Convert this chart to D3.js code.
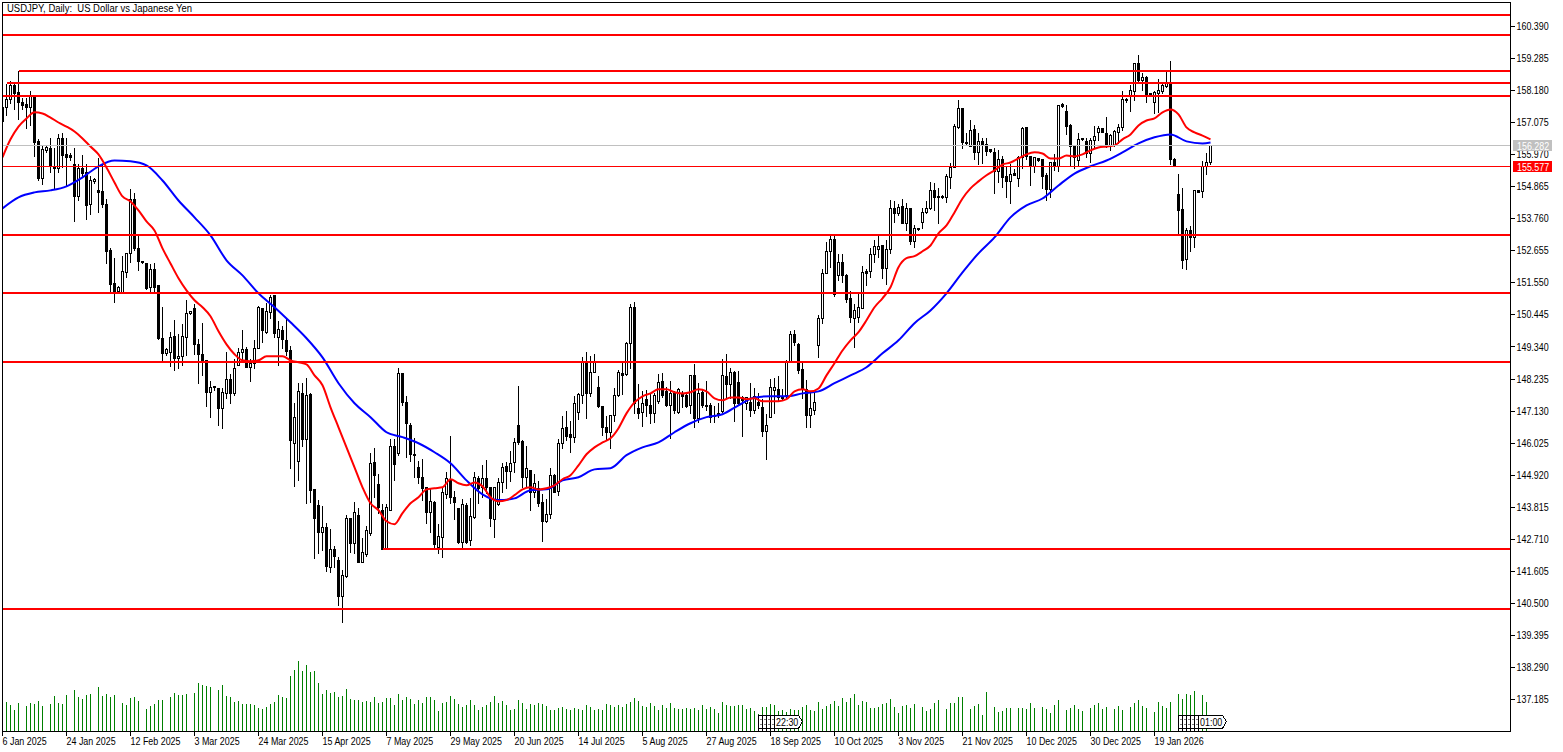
<!DOCTYPE html>
<html><head><meta charset="utf-8">
<style>
html,body{margin:0;padding:0;background:#fff;overflow:hidden}
svg{display:block}
text{font-family:"Liberation Sans",Arial,sans-serif;font-size:11px;fill:#000;white-space:pre}
</style>
<script src="https://cdn.jsdelivr.net/npm/d3@7/dist/d3.min.js"></script>
</head><body>
<svg id="c" width="1563" height="752"></svg>
<script>
const chartTitle = "USDJPY, Daily:  US Dollar vs Japanese Yen";
const opens = [157.60,157.60,157.87,158.36,158.12,157.77,157.70,157.60,157.98,156.43,
155.15,156.12,156.19,155.57,155.50,156.53,155.98,155.94,155.63,154.53,
155.50,155.36,154.26,155.05,154.74,154.70,154.26,152.67,151.53,151.26,
151.19,151.91,152.57,154.43,152.74,152.29,152.22,151.39,152.02,151.46,
149.64,149.12,149.16,149.71,148.95,149.02,149.67,150.50,150.67,149.43,
149.09,148.88,147.78,147.95,147.91,147.23,147.74,148.22,147.74,148.71,
149.16,149.26,148.64,148.78,149.29,150.67,149.84,150.53,151.12,149.67,
149.91,149.57,149.22,146.02,145.40,147.74,146.16,147.71,144.43,143.88,
142.95,143.13,141.75,142.37,141.99,140.75,141.44,143.44,142.57,143.54,
141.92,142.20,142.92,145.36,144.61,143.71,142.37,143.71,145.92,145.68,
148.43,147.43,146.64,145.61,145.19,144.85,144.50,143.64,143.99,142.44,
142.78,144.26,144.78,144.16,143.78,142.61,143.88,142.68,143.47,144.81,
144.50,144.81,144.50,143.40,143.92,144.67,145.23,145.05,145.37,146.64,
146.09,144.85,145.09,144.33,144.47,143.99,143.33,143.57,144.92,144.37,
146.02,146.57,146.33,146.23,147.09,147.67,148.81,147.74,148.47,147.95,
147.30,146.57,146.40,146.98,147.67,148.43,148.40,149.46,150.71,147.23,
147.09,147.54,147.33,147.05,147.47,148.15,147.81,147.33,147.74,147.09,
147.71,147.67,147.33,148.36,146.88,147.78,147.30,147.33,146.95,147.02,
147.12,148.33,148.05,148.47,148.12,147.60,147.40,147.43,147.16,147.43,
147.26,146.43,146.92,147.85,147.88,147.57,147.67,148.85,149.78,149.43,
148.57,147.88,146.98,147.16,149.40,150.33,151.88,152.64,153.05,151.81,
152.26,151.81,151.02,150.33,150.36,150.67,151.95,151.95,152.53,152.71,
152.84,152.05,152.71,154.12,153.95,154.19,153.60,154.12,152.98,153.43,
153.64,153.98,154.12,154.74,154.53,154.50,154.50,155.19,155.53,156.91,
157.56,156.39,156.25,156.84,156.05,156.43,156.32,156.15,156.05,155.39,
155.81,155.22,155.05,155.32,155.15,155.88,156.91,155.91,155.57,155.84,
155.81,155.26,154.77,155.70,155.57,157.70,157.46,156.98,156.29,155.77,
156.53,156.43,156.01,156.46,156.74,156.88,156.70,156.29,156.29,156.74,
156.91,157.84,158.01,158.15,159.11,158.53,158.63,158.08,157.77,158.08,
158.15,158.32,158.43,155.81,154.60,154.08,152.36,153.36,153.12,154.74,
154.70,155.57,155.70];
const closes = [157.12,157.87,158.36,158.08,157.77,157.67,157.60,157.98,156.39,155.15,
156.15,156.22,155.57,155.50,156.53,155.94,155.88,155.88,154.53,155.50,
155.32,154.22,155.08,155.12,154.67,154.26,152.64,151.50,151.26,151.39,
151.95,152.57,154.43,152.74,152.29,152.26,151.36,152.02,151.39,149.64,
149.12,149.26,149.67,148.95,149.02,149.71,150.50,150.57,149.43,149.09,
148.85,147.78,147.95,147.98,147.23,147.78,148.22,147.74,148.60,149.16,
149.26,148.64,148.78,149.29,150.71,149.91,150.57,151.05,149.81,149.95,
149.60,149.19,146.12,146.92,147.81,146.16,147.67,144.40,143.44,142.95,
143.13,141.78,142.37,142.13,140.75,141.47,143.44,142.57,143.64,141.92,
142.26,143.02,145.33,144.92,143.81,142.37,143.81,145.92,145.30,148.43,
147.43,146.71,145.64,145.64,144.85,144.47,143.64,144.02,142.54,142.82,
144.33,144.81,144.16,143.99,142.61,143.92,142.61,143.50,144.85,144.47,
144.81,144.50,143.43,144.50,144.67,145.19,145.05,145.33,146.05,146.05,
144.85,145.16,144.33,144.64,143.95,143.33,143.57,144.92,144.33,146.02,
146.54,146.26,146.23,147.40,147.71,148.81,147.74,148.47,148.81,147.30,
146.57,146.40,146.98,147.67,148.47,148.36,149.46,150.71,147.40,147.05,
147.40,147.33,147.05,147.67,148.12,147.67,147.33,147.74,147.16,147.88,
147.64,147.30,148.36,146.88,147.74,147.33,147.33,146.92,146.98,147.05,
148.36,148.05,148.47,147.40,147.40,147.50,147.60,147.16,147.64,147.33,
146.43,146.64,147.95,147.95,147.60,147.60,148.85,149.78,149.50,148.54,
147.88,146.98,147.23,147.43,150.33,151.88,152.64,153.05,151.15,152.26,
151.81,150.98,150.36,150.60,150.71,151.91,151.88,152.53,152.81,152.81,
152.05,152.71,154.12,153.95,154.15,153.60,154.12,152.98,153.43,153.39,
153.98,154.12,154.74,154.50,154.50,154.53,155.22,155.53,156.94,157.56,
156.39,156.36,156.81,156.05,156.43,156.32,156.08,156.08,155.39,155.81,
155.19,155.05,155.29,155.26,155.88,156.87,155.91,155.57,155.88,155.77,
155.22,154.77,155.70,155.57,157.67,157.63,156.94,156.25,155.88,156.50,
156.50,156.01,156.46,156.60,156.87,156.74,156.25,156.63,156.77,156.91,
157.87,157.87,158.18,159.11,158.53,158.63,158.05,158.01,158.12,158.18,
158.36,158.43,155.81,155.60,154.05,152.33,153.36,153.12,154.74,154.67,
155.57,155.70,156.282];
const highs = [157.84,158.43,158.53,158.43,158.87,157.94,157.94,158.18,158.01,156.53,
156.32,156.29,156.57,156.22,156.70,156.74,156.57,156.05,156.22,155.67,
155.98,155.67,155.26,155.19,155.88,155.67,154.46,152.77,152.43,151.46,
152.50,152.60,154.81,154.67,153.19,152.33,152.26,152.22,152.26,151.50,
150.74,149.33,149.88,150.29,149.81,150.16,150.98,150.60,150.84,149.64,
150.19,148.88,148.19,148.02,147.91,147.95,149.19,148.43,148.95,149.33,
149.95,149.36,148.95,149.60,150.78,150.71,150.88,151.15,151.15,150.26,
150.09,150.33,149.40,147.43,148.12,148.12,148.30,147.78,144.47,144.09,
143.88,143.30,143.09,142.51,142.13,141.68,143.57,143.47,144.02,143.81,
142.78,143.19,145.71,145.88,144.99,143.95,143.95,146.19,146.19,148.64,
148.47,147.67,146.74,146.23,145.43,145.50,144.54,144.47,144.06,143.26,
144.50,145.05,146.30,144.40,143.78,144.12,143.99,144.16,145.05,144.92,
145.30,145.47,144.54,144.50,144.85,145.37,145.40,145.78,146.23,148.02,
146.16,145.95,145.12,144.99,144.74,144.30,144.12,145.19,144.99,146.19,
146.98,147.16,146.81,147.67,147.78,149.02,149.19,149.05,149.12,148.36,
147.30,146.98,147.02,147.95,148.57,148.81,149.53,150.84,150.91,148.09,
147.85,147.88,147.74,147.78,148.43,148.47,147.98,148.19,147.85,147.95,
147.85,147.78,148.40,148.78,148.12,147.91,148.19,147.43,147.33,147.43,
148.95,149.12,148.64,148.54,148.54,147.67,147.64,148.12,147.95,147.78,
147.57,147.05,148.26,148.29,148.36,147.91,148.91,149.91,149.95,149.50,
148.81,148.22,147.85,147.78,150.46,152.05,152.98,153.22,153.22,152.57,
152.57,151.88,151.29,150.84,151.19,152.15,152.05,152.77,153.05,153.26,
152.84,153.05,154.43,154.39,154.29,154.46,154.33,154.15,153.57,153.43,
154.15,154.39,155.05,155.01,154.84,154.60,155.32,155.70,157.05,157.87,
157.56,156.74,157.19,157.01,156.74,156.57,156.57,156.15,156.22,156.15,
155.94,155.60,155.67,155.50,155.94,156.94,156.94,155.94,155.91,155.88,
155.84,155.36,155.74,156.01,157.70,157.77,157.70,157.05,156.29,156.74,
156.57,156.57,156.57,156.98,156.98,156.91,157.29,156.70,156.84,157.05,
158.18,157.94,158.39,159.15,159.43,158.80,158.70,158.12,158.18,158.60,
158.49,158.87,159.22,155.88,155.32,154.84,153.46,153.53,154.77,154.77,
155.77,156.05,156.29];
const lows = [157.12,157.32,157.74,157.53,157.18,157.53,156.87,156.98,155.91,155.08,
154.95,156.05,155.36,154.77,155.36,155.53,154.91,155.77,153.67,154.39,
155.19,153.74,153.91,154.98,153.98,154.15,152.22,151.22,150.88,151.19,
151.19,151.74,152.26,152.67,151.98,152.22,151.33,151.19,151.19,149.60,
148.88,149.05,148.67,148.54,148.60,148.71,149.05,150.47,149.09,148.09,
148.36,147.30,146.92,147.85,146.64,146.54,147.57,147.40,147.67,148.71,
148.88,148.64,148.15,148.60,149.29,149.50,149.81,150.33,149.67,148.71,
149.29,149.05,145.16,144.54,144.74,145.92,143.95,143.99,142.06,142.23,
142.33,141.61,141.57,141.75,140.44,139.85,141.40,142.26,142.23,141.92,
141.92,142.13,142.85,144.16,143.61,142.37,142.37,143.71,144.74,145.61,
147.33,145.54,145.40,144.85,144.64,144.06,143.26,142.95,142.40,142.23,
142.09,144.12,143.95,143.40,142.57,142.40,142.57,142.50,143.43,143.95,
144.16,144.30,143.16,142.78,143.88,144.33,144.47,144.71,145.02,145.99,
144.50,144.50,143.71,144.16,143.85,142.64,143.30,143.43,144.33,144.23,
145.85,146.12,145.71,146.05,146.85,147.40,146.88,147.64,148.47,147.26,
146.30,146.12,145.85,146.78,147.64,147.71,148.36,148.60,147.05,146.88,
146.61,146.95,146.71,146.74,147.40,147.60,147.30,146.19,147.05,147.05,
147.26,147.26,147.05,146.57,146.74,147.26,147.16,146.74,146.74,146.92,
147.09,147.60,147.57,146.78,147.33,146.26,147.19,146.95,147.05,147.23,
146.26,145.47,146.92,147.05,147.50,147.50,147.57,148.81,149.40,148.43,
147.57,146.57,146.57,147.02,148.98,150.16,152.09,152.09,151.09,151.64,
151.57,150.88,150.19,149.33,150.19,150.67,151.46,151.74,152.26,152.43,
151.71,151.50,152.57,153.64,153.88,153.60,153.36,152.88,152.77,153.36,
153.43,153.95,154.08,154.05,153.60,154.46,154.33,154.81,155.53,156.87,
156.19,156.29,156.25,155.81,155.63,155.67,155.94,156.05,154.64,155.01,
154.84,154.50,154.29,155.26,154.88,155.50,155.81,154.91,155.36,155.74,
154.81,154.39,154.50,155.43,155.39,157.60,156.67,155.60,155.50,155.60,
156.46,155.88,155.70,156.22,156.46,156.74,156.22,156.12,156.25,156.36,
156.81,157.77,157.46,157.84,158.46,158.18,157.77,157.98,157.39,157.43,
158.08,158.29,155.63,155.57,153.26,152.05,152.02,152.64,152.77,154.67,
154.50,155.29,155.63];
const volumes = [0,31,28,23,30,0,27,30,29,32,27,0,29,37,30,29,38,0,43,36,34,38,39,1,46,37,39,36,38,0,30,28,35,36,32,0,24,27,29,33,33,0,36,40,38,38,39,0,40,50,48,47,46,0,43,48,37,36,31,32,29,29,29,28,25,24,26,29,31,38,36,35,57,63,72,62,68,61,62,50,39,43,40,41,36,37,44,34,33,33,31,32,31,36,30,31,35,35,28,39,
33,36,34,29,33,30,36,36,33,22,30,31,37,34,29,26,28,33,28,23,26,28,31,37,30,32,28,23,24,33,30,24,29,28,30,29,27,23,23,25,26,24,23,25,24,23,28,26,23,24,23,29,28,26,28,26,29,31,35,32,
27,26,30,27,23,28,25,30,25,24,24,25,24,25,23,28,24,26,24,20,31,28,27,27,28,28,24,25,22,19,26,26,29,28,22,23,21,24,23,23,26,28,23,22,31,24,27,29,32,27,35,31,35,39,28,32,31,25,25,26,29,30,34,26,20,27,28,25,29,0,26,22,24,30,33,0,24,30,30,36,36,0,24,27,29,18,41,0,26,21,22,25,25,0,25,25,24,30,25,0,
26,24,20,28,33,0,23,25,28,24,22,0,25,28,30,24,26,0,24,27,23,0,26,30,33,27,25,0,
21,31,27,25,31,0,39,34,39,38,42,0,38,31,1];
// moving averages: red sampled every 2 bars, blue every 4 bars (plus the last bar)
const maFast = [155.88,156.50,156.94,157.22,157.43,157.39,157.25,157.08,156.94,156.77,
156.53,156.25,155.98,155.53,155.01,154.53,154.36,154.05,153.67,153.36,
152.74,152.22,151.71,151.29,150.95,150.71,150.40,149.88,149.43,149.09,
148.88,148.85,148.88,149.02,149.02,149.02,148.88,148.81,148.74,148.36,
148.02,147.26,146.57,145.88,145.19,144.50,143.95,143.71,143.33,143.23,
143.61,143.95,144.16,144.43,144.47,144.50,144.78,144.64,144.57,144.67,
144.54,144.16,144.02,144.06,144.23,144.43,144.50,144.43,144.47,144.57,
144.78,144.92,145.26,145.64,145.88,146.05,146.19,146.54,147.05,147.43,
147.64,147.74,147.88,147.88,147.78,147.74,147.78,147.88,147.81,147.57,
147.50,147.60,147.60,147.54,147.57,147.47,147.47,147.47,147.54,147.81,
147.88,147.81,147.91,148.36,148.78,149.22,149.57,149.85,150.26,150.71,
151.02,151.40,152.09,152.40,152.47,152.64,152.84,153.26,153.53,153.98,
154.46,154.81,155.05,155.26,155.43,155.63,155.70,155.84,155.98,156.05,
156.01,155.84,155.84,155.94,155.91,155.98,156.12,156.22,156.25,156.29,
156.50,156.67,156.98,157.15,157.22,157.43,157.53,157.36,156.91,156.74,
156.63,156.50];
const maSlow = [154.12,154.50,154.67,154.74,154.88,155.19,155.57,155.77,155.74,155.60,
155.08,154.39,153.81,153.19,152.33,151.81,151.19,150.71,150.19,149.64,
148.98,148.09,147.40,146.92,146.40,146.23,146.02,145.71,145.33,144.74,
144.26,144.06,144.12,144.40,144.43,144.74,144.85,145.12,145.16,145.61,
145.88,146.05,146.40,146.71,146.92,147.02,147.33,147.60,147.64,147.64,
147.74,147.81,148.09,148.36,148.64,149.12,149.57,150.16,150.60,151.19,
151.91,152.57,153.12,153.81,154.22,154.46,154.91,155.32,155.57,155.77,
156.05,156.36,156.57,156.67,156.43,156.36,156.39];
const priceTicks = ["160.390","159.285","158.180","157.075","155.970","154.865","153.760","152.655","151.550","150.445","149.340","148.235","147.130","146.025","144.920","143.815","142.710","141.605","140.500","139.395","138.290","137.185"];
const dateLabels = ["6 Jan 2025","24 Jan 2025","12 Feb 2025","3 Mar 2025","24 Mar 2025","15 Apr 2025","7 May 2025","29 May 2025","20 Jun 2025","14 Jul 2025","5 Aug 2025","27 Aug 2025","18 Sep 2025","10 Oct 2025","3 Nov 2025","21 Nov 2025","10 Dec 2025","30 Dec 2025","19 Jan 2026"];
const dateBars = d3.range(0, 19).map(k => k * 16);
const levelPrices = [160.77,160.11,158.87,158.43,157.98,153.19,151.19,148.81,142.38,140.30];
const levelStartBars = [-0.2,-0.2,4,1,-0.2,-0.2,-0.2,-0.2,95,-0.2];
const bidPrice = 156.282, askLevel = 155.577;
const timeTags = ["22:30","01:00"];
const timeTagBars = [193,299];
const timeTagStacks = [4,5];

const L = 2.5, R = 1510.5, B = 731.5, T = 2.5;
const svg = d3.select("#c");
const x = d3.scaleLinear().domain([0, 1]).range([2.5, 6.5]);
const y = d3.scaleLinear().domain([160.39, 137.185]).range([26.5, 699.5]);
const vy = d3.scaleLinear().domain([0, 72]).range([B, 659.5]);
const py = p => Math.round(y(p) - 0.5) + 0.5;

svg.append("clipPath").attr("id", "plot").append("rect").attr("x", 3).attr("y", 3).attr("width", R - 3).attr("height", B - 3);
const g = svg.append("g").attr("clip-path", "url(#plot)");

// volume
g.append("g").attr("shape-rendering", "crispEdges").selectAll("line")
  .data(volumes.map((v, i) => [i, v]).filter(d => d[1] > 0)).join("line")
  .attr("x1", d => x(d[0])).attr("x2", d => x(d[0]))
  .attr("y1", B).attr("y2", d => Math.round(vy(d[1])) + 0.5)
  .attr("stroke", "#008000");

// candles
const cg = g.append("g").attr("shape-rendering", "crispEdges");
opens.forEach((o, i) => {
  const c = closes[i], bull = c > o, cx = x(i);
  cg.append("line").attr("x1", cx).attr("x2", cx).attr("y1", py(highs[i])).attr("y2", py(lows[i])).attr("stroke", "#000");
  const t = py(Math.max(o, c)), b = py(Math.min(o, c));
  cg.append("rect").attr("x", cx - 1).attr("y", t).attr("width", 2).attr("height", Math.max(b - t, 1))
    .attr("fill", bull ? "#fff" : "#000").attr("stroke", "#000");
});

// moving averages
const lineGen = d3.line().x(d => x(d[0])).y(d => y(d[1])).curve(d3.curveMonotoneX);
const fastPts = maFast.map((v, k) => [k * 2, v]);
const slowPts = maSlow.map((v, k) => [k < 76 ? k * 4 : 302, v]);
g.append("path").attr("d", lineGen(slowPts)).attr("fill", "none").attr("stroke", "#0000ff").attr("stroke-width", 2);
g.append("path").attr("d", lineGen(fastPts)).attr("fill", "none").attr("stroke", "#ff0000").attr("stroke-width", 2);

// levels
const lg = g.append("g").attr("shape-rendering", "crispEdges");
levelPrices.forEach((p, i) => {
  const yy = Math.round(y(p));
  lg.append("line").attr("x1", x(levelStartBars[i])).attr("x2", R).attr("y1", yy).attr("y2", yy)
    .attr("stroke", "#ff0000").attr("stroke-width", 2);
});
lg.append("line").attr("x1", 3).attr("x2", R).attr("y1", py(bidPrice)).attr("y2", py(bidPrice)).attr("stroke", "#c0c0c0");
lg.append("line").attr("x1", 3).attr("x2", R).attr("y1", py(askLevel)).attr("y2", py(askLevel)).attr("stroke", "#ff0000");

// time tags
timeTags.forEach((label, k) => {
  const start = timeTagBars[k];
  const tg = svg.append("g");
  for (let s = start - timeTagStacks[k]; s <= start; s++) {
    const x0 = Math.floor(x(s)) + 0.5;
    tg.append("path").attr("d", `M${x0},731V715.5H${x0 + 24}L${x0 + 28},721.5L${x0 + 24},728.5H${x0}`)
      .attr("fill", "#fff").attr("stroke", "#000").attr("shape-rendering", "crispEdges");
    if (s < start) {
      tg.append("rect").attr("x", x0 + 2).attr("y", 719).attr("width", 1).attr("height", 1).attr("fill", "#000");
      tg.append("rect").attr("x", x0 + 2).attr("y", 724).attr("width", 1).attr("height", 1).attr("fill", "#000");
    } else {
      tg.append("text").attr("class", "fit").attr("x", x0 + 1.5).attr("y", 726).text(label);
    }
  }
});

// frame
svg.append("path").attr("d", `M${L},${T}H${R}V${B}H${L}Z`).attr("fill", "none").attr("stroke", "#000").attr("shape-rendering", "crispEdges");

// axes
const yAxis = d3.axisRight(y).tickValues(priceTicks.map(Number)).tickFormat(d3.format(".3f")).tickSize(4).tickPadding(2).offset(0);
const ya = svg.append("g").attr("transform", `translate(${R},0)`).call(yAxis);
ya.select(".domain").remove();
ya.attr("font-family", null).attr("font-size", null);
ya.selectAll("line").attr("stroke", "#000").attr("shape-rendering", "crispEdges");
ya.selectAll("text").attr("class", "fit").attr("fill", "#000");
const xAxis = d3.axisBottom(x).tickValues(dateBars).tickFormat((d, i) => dateLabels[i]).tickSize(4).tickPadding(2).offset(0);
const xa = svg.append("g").attr("transform", `translate(0,${B})`).call(xAxis);
xa.select(".domain").remove();
xa.attr("font-family", null).attr("font-size", null);
xa.selectAll("line").attr("stroke", "#000").attr("shape-rendering", "crispEdges");
xa.selectAll("text").attr("class", "fit").attr("text-anchor", "start").attr("fill", "#000");

// price tags
[[bidPrice, "#c0c0c0", "156.282"], [askLevel, "#ff0000", "155.577"]].forEach(([p, col, s]) => {
  const cy = py(p);
  svg.append("rect").attr("x", 1513).attr("y", cy - 5.5).attr("width", 39).attr("height", 11).attr("fill", col).attr("shape-rendering", "crispEdges");
  svg.append("text").attr("class", "fit").attr("x", 1517).attr("y", cy + 4).style("fill", "#fff").text(s);
});

svg.append("text").attr("x", 7).attr("y", 12).attr("textLength", 185).attr("lengthAdjust", "spacingAndGlyphs").text(chartTitle);

// the platform's bitmap font is narrower than the installed ones
svg.selectAll("text.fit").each(function () {
  const len = this.getComputedTextLength();
  d3.select(this).attr("textLength", (len * 0.81).toFixed(1)).attr("lengthAdjust", "spacingAndGlyphs");
});
</script>
</body></html>
